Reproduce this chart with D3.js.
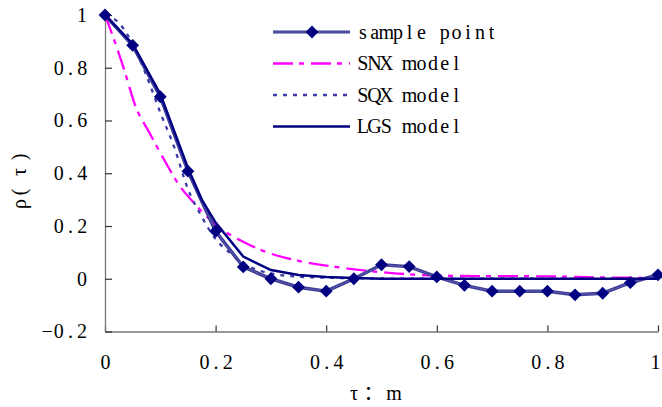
<!DOCTYPE html>
<html>
<head>
<meta charset="utf-8">
<script src="https://cdn.jsdelivr.net/npm/d3@7"></script>
<style>
  body { margin: 0; background: #fff; }
  text { font-family: "Liberation Serif", "Noto Sans CJK SC", serif; fill: #000; }
</style>
</head>
<body>
<div id="chart"></div>
<script>
// sample points, every 0.05 m
const sampleTau = [0, 0.05, 0.1, 0.15, 0.2, 0.25, 0.3, 0.35, 0.4, 0.45, 0.5,
                   0.55, 0.6, 0.65, 0.7, 0.75, 0.8, 0.85, 0.9, 0.95, 1];
const sampleRho = [1, 0.885, 0.69, 0.408, 0.18, 0.045, 0, -0.032, -0.047, 0, 0.053,
                   0.046, 0.007, -0.025, -0.047, -0.047, -0.047, -0.061, -0.055, -0.015, 0.015];

// model curves
const snxTau = [0, 0.015, 0.035, 0.055, 0.08, 0.11, 0.135, 0.16, 0.2, 0.25, 0.3, 0.35,
                0.42, 0.5, 0.6, 0.7, 0.8, 0.9, 1];
const snxRho = [1, 0.915, 0.79, 0.655, 0.555, 0.44, 0.352, 0.29, 0.205, 0.14, 0.095, 0.068,
                0.044, 0.025, 0.012, 0.01, 0.009, 0.005, 0.003];

const sqxTau = [0, 0.025, 0.05, 0.075, 0.1, 0.125, 0.15, 0.175, 0.2, 0.225, 0.25, 0.275,
                0.3, 0.35, 0.4, 0.5, 0.6, 0.8, 1];
const sqxRho = [1, 0.97, 0.89, 0.77, 0.63, 0.5, 0.34, 0.235, 0.15, 0.1, 0.058, 0.034,
                0.02, 0.008, 0.004, 0.001, 0, 0, 0];

const lgsTau = [0, 0.05, 0.1, 0.15, 0.175, 0.2, 0.25, 0.3, 0.35, 0.4, 0.45, 0.5, 0.6, 0.8, 1];
const lgsRho = [1, 0.89, 0.7, 0.42, 0.3, 0.213, 0.084, 0.033, 0.014, 0.007, 0.003, 0, 0, 0, 0];

const xTicks = [0, 0.2, 0.4, 0.6, 0.8, 1];
const yTicks = [-0.2, 0, 0.2, 0.4, 0.6, 0.8, 1];
const legendNames = ["sample point", "SNX model", "SQX model", "LGS model"];

const W = 662, H = 407;
const CELL = 11.7;   // fixed character cell, the original font is monospaced
const FS = 20;

const x = d3.scaleLinear().domain([0, 1]).range([105, 658]);
const y = d3.scaleLinear().domain([-0.2, 1]).range([331.5, 15]);

const svg = d3.select("#chart").append("svg")
    .attr("width", W).attr("height", H);

const fmt = d => (d === 0 || d === 1) ? String(d) : d.toFixed(1).replace("-", "\u2212");

// lay characters out on a fixed grid: each char centred in its own cell
function cellXs(str, start) {
    return str.split("").map((c, i) => (start + CELL * (i + 0.5)).toFixed(1)).join(" ");
}

// axes (ticks pointing inward)
const xAxis = svg.append("g").attr("transform", "translate(0," + y(-0.2) + ")")
    .call(d3.axisBottom(x).tickValues(xTicks).tickSizeInner(-6).tickSizeOuter(0).tickFormat(fmt));
const yAxis = svg.append("g").attr("transform", "translate(" + x(0) + ",0)")
    .call(d3.axisLeft(y).tickValues(yTicks).tickSizeInner(-7).tickSizeOuter(0).tickFormat(fmt));

[xAxis, yAxis].forEach(g => {
    g.select(".domain").attr("stroke", "#777").attr("stroke-width", 1.3);
    g.selectAll(".tick line").attr("stroke", "#333").attr("stroke-width", 1.2);
    g.selectAll(".tick text")
        .attr("font-family", null)
        .attr("font-size", FS).attr("fill", "#000")
        .attr("text-anchor", "middle");
});
xAxis.selectAll(".tick text")
    .attr("y", 23)
    .attr("x", function(d) {
        const s = fmt(d);
        let start = -s.length * CELL / 2;
        if (d === 1) start -= 3;
        return cellXs(s, start);
    });
yAxis.selectAll(".tick text")
    .attr("x", function(d) {
        const s = fmt(d);
        return cellXs(s, -17 - s.length * CELL);
    });

// axis titles
svg.append("text")
    .attr("x", "354 373.5 394").attr("y", 400)
    .attr("text-anchor", "middle")
    .attr("font-size", FS)
    .text("τ：m");
svg.append("text")
    .attr("transform", "translate(26,0) rotate(-90)")
    .attr("x", "-204 -192 -172 -157")
    .attr("text-anchor", "middle")
    .attr("font-size", FS)
    .text("ρ(τ)");

const lin = d3.line().x(d => x(d[0])).y(d => y(d[1]));
const smooth = d3.line().x(d => x(d[0])).y(d => y(d[1])).curve(d3.curveMonotoneX);
const zip = (a, b) => a.map((v, i) => [v, b[i]]);

const styles = {
    sample: { stroke: "#3d3d98", width: 3.5 },
    snx: { stroke: "#ff00ff", width: 2.3, dash: "20,6,5,7" },
    sqx: { stroke: "#3c3ca8", width: 2.3, dash: "4,6" },
    lgs: { stroke: "#000080", width: 2.5 }
};

function styled(sel, s) {
    sel.attr("fill", "none").attr("stroke", s.stroke).attr("stroke-width", s.width);
    if (s.dash) sel.attr("stroke-dasharray", s.dash);
    return sel;
}

// series
styled(svg.append("path").attr("d", smooth(zip(snxTau, snxRho))), styles.snx);
styled(svg.append("path").attr("d", smooth(zip(sqxTau, sqxRho))), styles.sqx);
styled(svg.append("path").attr("d", lin(zip(sampleTau, sampleRho))), styles.sample);
svg.append("path").attr("d", lin(zip(sampleTau, sampleRho)))
    .attr("fill", "none").attr("stroke", "#9a9ad0").attr("stroke-width", 1)
    .attr("stroke-dasharray", "1,1").attr("opacity", 0.6);
styled(svg.append("path").attr("d", lin(zip(lgsTau, lgsRho))), styles.lgs);

const diamond = d3.symbol().type(d3.symbolDiamond2).size(105);
svg.append("g").selectAll("path")
    .data(zip(sampleTau, sampleRho))
    .join("path")
    .attr("transform", d => "translate(" + x(d[0]) + "," + y(d[1]) + ")")
    .attr("d", diamond)
    .attr("fill", "#000080");

// legend
const legendKeys = ["sample", "snx", "sqx", "lgs"];
const lg = svg.append("g");
legendNames.forEach((name, i) => {
    const cy = 32 + i * 31.5;
    styled(lg.append("line").attr("x1", 273).attr("x2", 350).attr("y1", cy).attr("y2", cy),
        legendKeys[i] === "sample" ? { stroke: "#3d3d98", width: 3 } : styles[legendKeys[i]]);
    if (i === 0) {
        lg.append("line").attr("x1", 273).attr("x2", 350).attr("y1", cy).attr("y2", cy)
            .attr("stroke", "#9a9ad0").attr("stroke-width", 1)
            .attr("stroke-dasharray", "1,1").attr("opacity", 0.7);
        lg.append("path").attr("transform", "translate(312," + cy + ")")
            .attr("d", diamond).attr("fill", "#000080");
    }
    lg.append("text").attr("x", cellXs(name, 357)).attr("y", cy + 6.5)
        .attr("text-anchor", "middle")
        .attr("font-size", FS).text(name);
});
</script>
</body>
</html>
